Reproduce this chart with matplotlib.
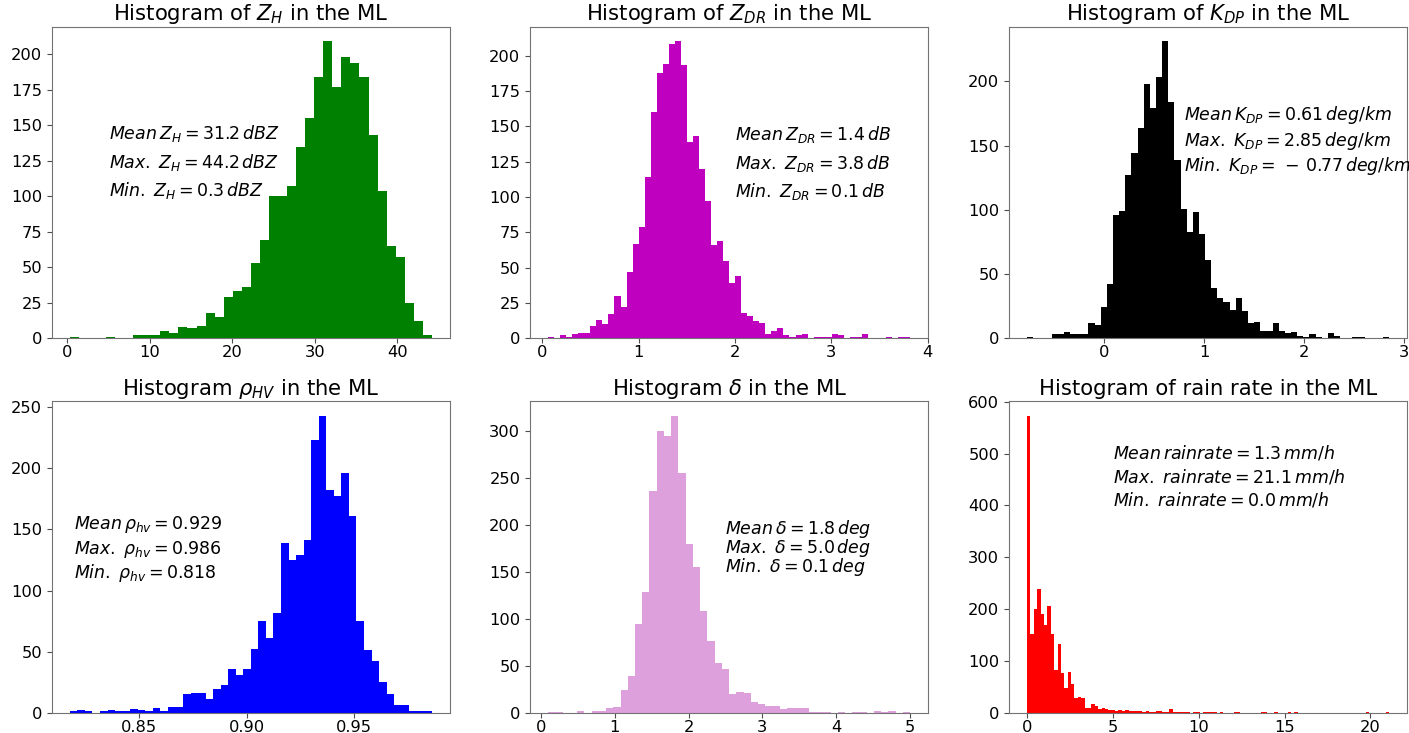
import numpy as np
import matplotlib
matplotlib.use("Agg")
import matplotlib.pyplot as plt
from matplotlib.ticker import MultipleLocator

# ---------------- data (bin counts) ----------------
zh_range = (0.3, 44.2)
zh_counts = [1, 0, 0, 0, 1, 0, 0, 2, 2, 2, 5, 4, 8, 7, 9, 18, 15, 29, 33, 36,
             53, 69, 100, 100, 107, 135, 155, 184, 209, 177, 198, 194, 184, 143, 104, 65, 57, 25, 12, 2]

zdr_range = (0.06, 3.82)
zdr_counts = [1, 0, 2, 1, 3, 4, 4, 9, 13, 10, 17, 30, 22, 47, 67, 79, 114, 160, 188, 194,
              208, 210, 193, 139, 143, 120, 97, 66, 69, 55, 39, 44, 18, 16, 12, 11, 3, 5, 7, 2,
              1, 2, 3, 0, 1, 1, 1, 3, 2, 0, 1, 1, 3, 0, 0, 0, 1, 0, 1, 1]

kdp_range = (-0.77, 2.85)
kdp_counts = [1, 0, 0, 0, 3, 3, 5, 3, 3, 3, 12, 10, 24, 42, 96, 99, 127, 144, 164, 198,
              179, 203, 231, 184, 139, 101, 83, 98, 81, 61, 39, 31, 28, 22, 31, 21, 12, 13, 6, 6,
              12, 6, 4, 5, 2, 1, 3, 1, 0, 4, 2, 0, 0, 1, 1, 0, 0, 0, 1]

rhohv_range = (0.818, 0.986)
rhohv_counts = [1, 2, 1, 0, 1, 2, 1, 1, 3, 2, 1, 4, 1, 5, 5, 15, 16, 16, 11, 19,
                23, 36, 31, 36, 52, 75, 61, 82, 139, 125, 129, 141, 223, 243, 182, 177, 196, 161, 75, 51,
                42, 25, 15, 6, 6, 1, 1, 1]

delta_range = (0.1, 5.0)
delta_counts = [1, 1, 0, 0, 2, 0, 2, 2, 5, 6, 24, 39, 94, 128, 236, 300, 295, 316, 255, 180,
                155, 108, 76, 53, 46, 20, 22, 21, 11, 9, 7, 7, 4, 5, 5, 5, 1, 1, 1, 0,
                1, 0, 1, 1, 0, 2, 1, 2, 0, 1]

rain_range = (0.0, 21.1)
rain_counts = [573, 152, 200, 238, 191, 169, 205, 151, 82, 133,
               76, 47, 78, 55, 29, 30, 28, 10, 10, 16,
               13, 7, 10, 8, 6, 6, 4, 6, 4, 6,
               3, 3, 3, 3, 2, 3, 2, 2, 3, 3,
               2, 2, 7, 2, 2, 2, 2, 2, 0, 2,
               2, 0, 1, 1, 1, 1, 0, 1, 0, 0,
               0, 1, 1, 0, 0, 0, 0, 0, 0, 1,
               1, 0, 0, 1, 0, 0, 0, 1, 0, 1,
               0, 0, 0, 0, 0, 0, 0, 0, 0, 0,
               0, 0, 0, 0, 0, 0, 0, 0, 0, 0,
               1, 0, 0, 0, 0, 0, 1]

titles = ["Histogram of $Z_H$ in the ML",
          "Histogram of $Z_{DR}$ in the ML",
          "Histogram of $K_{DP}$ in the ML",
          r"Histogram $\rho_{HV}$ in the ML",
          r"Histogram $\delta$ in the ML",
          "Histogram of rain rate in the ML"]

colors = ["g", "m", "k", "b", "plum", "r"]

annotations = [
    [r"$Mean\,Z_H = 31.2\,dBZ$", r"$Max.\;Z_H = 44.2\,dBZ$", r"$Min.\;Z_H = 0.3\,dBZ$"],
    [r"$Mean\,Z_{DR} = 1.4\,dB$", r"$Max.\;Z_{DR} = 3.8\,dB$", r"$Min.\;Z_{DR} = 0.1\,dB$"],
    [r"$Mean\,K_{DP} = 0.61\,deg/km$", r"$Max.\;K_{DP} = 2.85\,deg/km$",
     r"$Min.\;K_{DP} =\,-\,0.77\,deg/km$"],
    [r"$Mean\,\rho_{hv} = 0.929$", r"$Max.\;\rho_{hv} = 0.986$", r"$Min.\;\rho_{hv} = 0.818$"],
    [r"$Mean\,\delta = 1.8\,deg$", r"$Max.\;\delta = 5.0\,deg$", r"$Min.\;\delta = 0.1\,deg$"],
    [r"$Mean\,rainrate = 1.3\,mm/h$", r"$Max.\;rainrate = 21.1\,mm/h$", r"$Min.\;rainrate = 0.0\,mm/h$"],
]
annot_x = [5, 2, 0.8, 0.82, 2.5, 5]
annot_y = [[140, 120, 100], [140, 120, 100], [170, 150, 130],
           [150, 130, 110], [190, 170, 150], [490, 445, 400]]

x_steps = [10, 1, 1, 0.05, 1, 5]

ranges = [zh_range, zdr_range, kdp_range, rhohv_range, delta_range, rain_range]
counts = [zh_counts, zdr_counts, kdp_counts, rhohv_counts, delta_counts, rain_counts]

# ---------------- figure ----------------
W, H = 1409, 733
fig = plt.figure(figsize=(W / 100, H / 100), dpi=100)

lefts = [51.7, 530.0, 1009.0]
tops = [26.6, 401.0]
aw, ah = 398.3, 311.7

for i in range(6):
    r, c = divmod(i, 3)
    ax = fig.add_axes([lefts[c] / W, (H - tops[r] - ah) / H, aw / W, ah / H])
    lo, hi = ranges[i]
    cnt = np.asarray(counts[i], dtype=float)
    edges = np.linspace(lo, hi, len(cnt) + 1)
    centers = 0.5 * (edges[:-1] + edges[1:])
    ax.hist(centers, bins=edges, weights=cnt, color=colors[i])
    ax.xaxis.set_major_locator(MultipleLocator(x_steps[i]))
    ax.set_title(titles[i], fontsize=15.2, pad=4.5)
    ax.tick_params(labelsize=11.7, color="0.3")
    ax.tick_params(axis="x", pad=1.5)
    for s in ax.spines.values():
        s.set_color("0.45")
    for txt, yy in zip(annotations[i], annot_y[i]):
        ax.text(annot_x[i], yy, txt, fontsize=12.5)

fig.savefig("out.png", dpi=100)
